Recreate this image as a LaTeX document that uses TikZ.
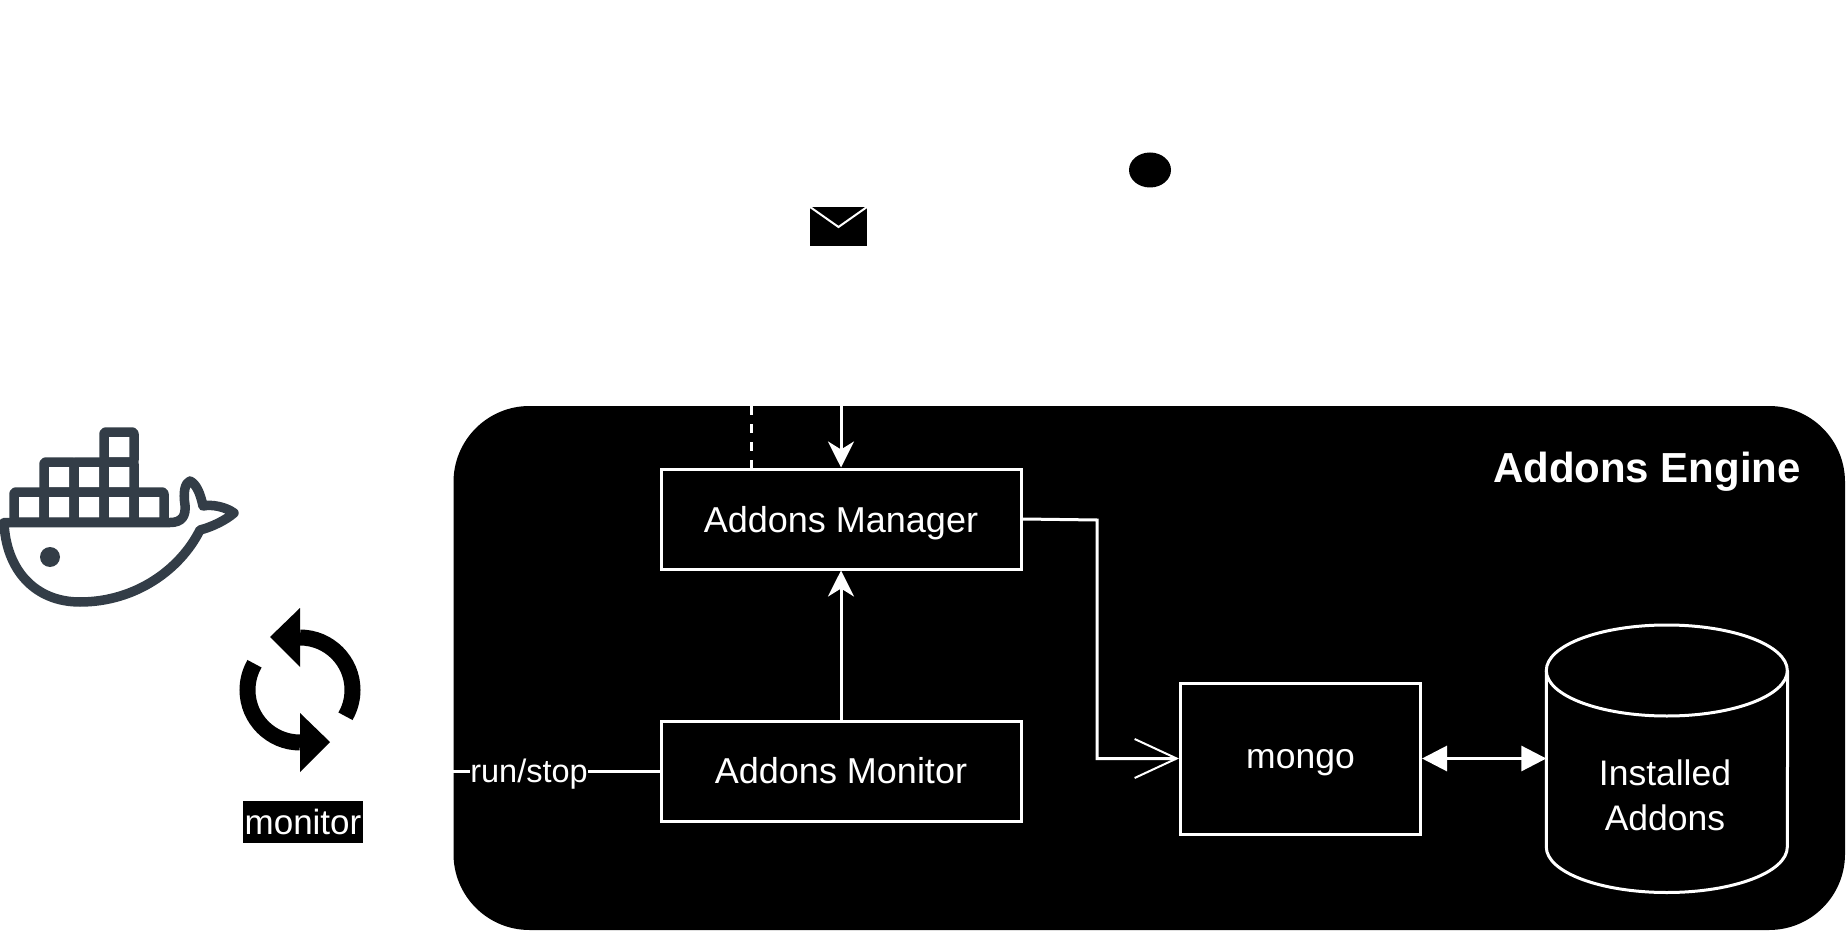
\documentclass[tikz,border=0pt]{standalone}
\usepackage{fontspec}
\usepackage{tikz}
\usetikzlibrary{arrows.meta,shapes.geometric}
\setmainfont{Liberation Sans}
\definecolor{dockergrey}{HTML}{333D47}
\tikzset{
  panel/.style={fill=black,rounded corners=76pt,inner sep=0pt,minimum width=1391.5pt,minimum height=524pt},
  boxnode/.style={draw=white,line width=3pt,fill=black,text=white,inner sep=0pt,minimum width=360pt,minimum height=100pt,font=\fontsize{36}{42}\selectfont},
  wire/.style={draw=white,line width=3pt},
  bigtip/.style={-{Stealth[length=26pt,width=26pt,inset=8pt]}},
  dockerline/.style={draw=dockergrey,line width=9.5pt,line join=round},
  syncline/.style={draw=black,line width=16pt}
}
\begin{document}
\begin{tikzpicture}[x=1pt,y=-1pt]
      \useasboundingbox (0,0) rectangle (1848,933);
      \node[panel] (engine) at (1149.25,668) {};
      \node[fill=black,ellipse,minimum width=42pt,minimum height=35pt,inner sep=0pt] (dot) at (1150,170) {};
      \node[fill=black,minimum width=57pt,minimum height=39pt,inner sep=0pt] (mail) at (838.5,226.5) {};
      \node[anchor=base,text=white,font=\bfseries\fontsize{42}{48}\selectfont,inner sep=0pt] (title) at (1647,482) {Addons Engine};
      \node[boxnode,text depth=0pt,text height=26pt] (manager) at (841,519) {Addons Manager};
      \node[boxnode] (monitor) at (841,771) {Addons Monitor};
      \node[boxnode,minimum width=240pt,minimum height=151pt,text depth=0pt,text height=19pt,font=\fontsize{35.5}{42}\selectfont] (mongo) at (1300.5,758.5) {mongo};
      \node[minimum width=241pt,minimum height=267pt,inner sep=0pt] (db) at (1667,758.5) {};
      \node[align=center,text=white,inner sep=0pt,font=\fontsize{35.5}{45}\selectfont] (dblabel) at (1665,795) {Installed\\Addons};
      \node[fill=black,text=white,inner sep=0pt,minimum width=120pt,minimum height=42pt,font=\fontsize{35}{40}\selectfont] (monitorlabel) at (303,822) {monitor};
      \node[text=white,inner sep=0pt,font=\fontsize{32.5}{40}\selectfont] (runstop) at (529,774) {run/stop};
      \coordinate (bend) at (1097,520);
      \coordinate (dashtop) at (751.5,406);
      % database
      \draw[wire] (db.west |- 0,670.5) arc[start angle=180,end angle=-180,x radius=120.5pt,y radius=45.5pt];
      \draw[wire] (db.west |- 0,670.5) -- (db.west |- 0,847) arc[start angle=180,end angle=360,x radius=120.5pt,y radius=45.5pt] -- (db.east |- 0,670.5);
      % connectors
      \draw[wire,bigtip] (engine.north -| manager) -- (manager.north);
      \draw[wire,dash pattern=on 9pt off 9pt] (dashtop) -- (dashtop |- manager.north);
      \draw[wire,bigtip] (monitor.north) -- (manager.south);
      \draw[wire,-{Straight Barb[length=42pt,width=39pt,line width=2pt]}] (manager.east) -- (bend) |- (mongo.west);
      \draw[wire,{Triangle[length=25pt,width=25pt]}-{Triangle[length=25pt,width=25pt]}] (mongo.east) -- (db.west |- mongo.east);
      \draw[wire] (engine.west |- monitor) -- (runstop.west |- monitor);
      \draw[wire] (runstop.east |- monitor) -- (monitor.west);
      \draw[draw=white,line width=2pt] (mail.north west) -- (mail.center |- 0,227) -- (mail.north east);
      % whale
      \foreach \xa in {14,44,74,104,134} \draw[dockerline,rounded corners=2pt] (\xa,492) rectangle (\xa+30,522);
      \foreach \xa in {44,74,104} \draw[dockerline,rounded corners=2pt] (\xa,462) rectangle (\xa+30,492);
      \draw[dockerline,rounded corners=2pt] (104,432) rectangle (134,462);
      \draw[dockerline] (4,522.5) -- (170,522.5) .. controls (182,522.5) and (186,516) .. (185,505) .. controls (183,492) and (185,483) .. (190,481) .. controls (196,484) and (200,492) .. (203,506) .. controls (212,504) and (226,507) .. (234,513) .. controls (226,520) and (212,527) .. (200,530) .. controls (180,570) and (135,602) .. (80,602) .. controls (35,602) and (6,570) .. (4,522.5) -- cycle;
      \fill[dockergrey] (50,557) circle[radius=10pt];
      % sync icon
      \draw[syncline] (300,637.5) arc[start angle=90,end angle=-30,radius=52.5pt];
      \draw[syncline] (300,742.5) arc[start angle=270,end angle=150,radius=52.5pt];
      \fill (300,608) -- (270,637) -- (300,667) -- cycle;
      \fill (300,713) -- (330,742) -- (300,772) -- cycle;
    \end{tikzpicture}
\end{document}
